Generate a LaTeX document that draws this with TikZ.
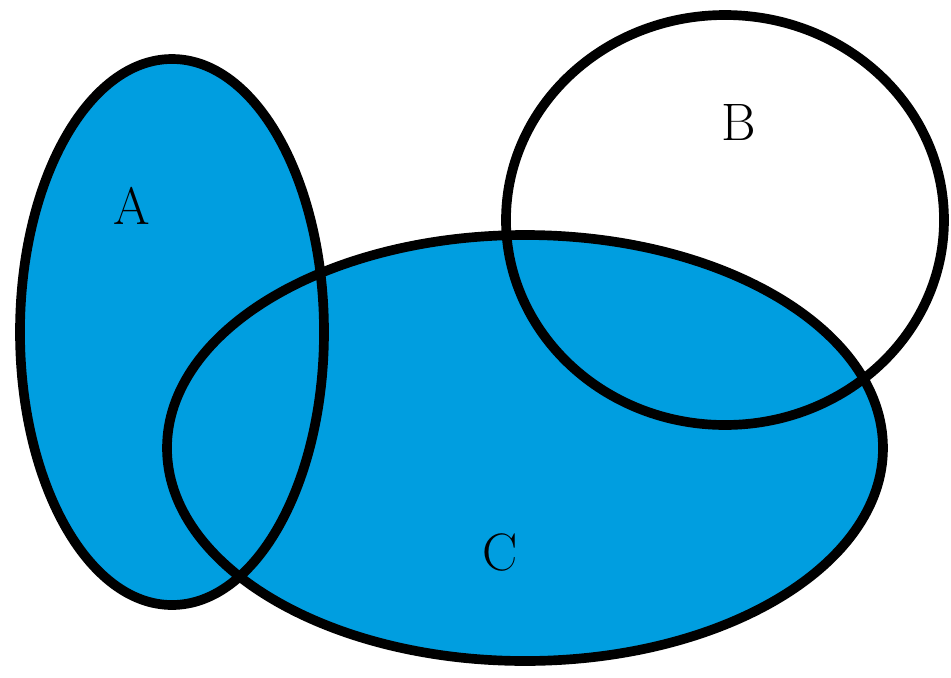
\documentclass[tikz,border=0pt]{standalone}
\definecolor{setblue}{RGB}{0,158,224}
\begin{document}
\begin{tikzpicture}[
  x=0.02cm, y=-0.02cm,
  set fill/.style={fill=setblue},
  set line/.style={draw=black, line width=5.5pt},
  every node/.style={font=\fontsize{30}{36}\selectfont, inner sep=0pt}
]
\useasboundingbox (0,0) rectangle (951,677);
\coordinate (cA) at (172,332);
\coordinate (cB) at (725,220);
\coordinate (cC) at (525,448);
% blue sets
\fill[set fill] (cA) ellipse [x radius=152, y radius=273];
\fill[set fill] (cC) ellipse [x radius=358, y radius=213];
% outlines
\draw[set line] (cA) ellipse [x radius=152, y radius=273];
\draw[set line] (cC) ellipse [x radius=358, y radius=213];
\draw[set line] (cB) ellipse [x radius=219, y radius=205];
% labels
\node (labA) at (132,206) {A};
\node (labB) at (739,122) {B};
\node (labC) at (500,552) {C};
\end{tikzpicture}
\end{document}
